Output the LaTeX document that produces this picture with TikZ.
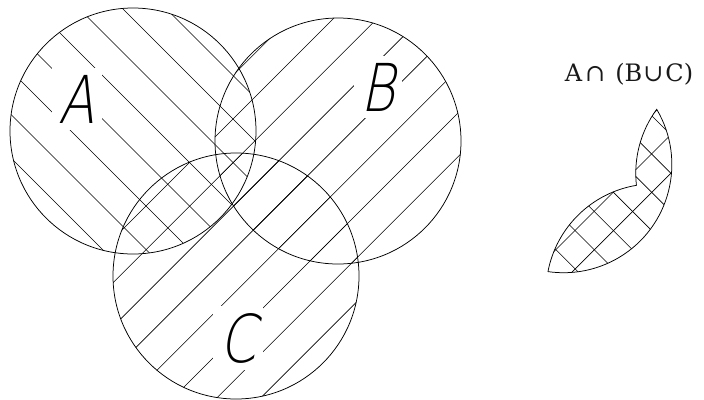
\documentclass[tikz,border=0pt]{standalone}
\usepackage{fontspec}
\IfFontExistsTF{DejaVu Sans ExtraLight}{%
  \newfontfamily\labfont[FakeStretch=0.8,FakeSlant=0.2]{DejaVu Sans ExtraLight}}{%
  \newfontfamily\labfont[FakeStretch=0.78,FakeSlant=0.2]{Liberation Sans}}
\newfontfamily\capfont{DejaVu Serif}
\tikzset{
  outline/.style={draw=black, line width=0.75pt},
  hatchline/.style={draw=black, line width=0.6pt},
  lab/.style={font=\labfont\fontsize{66}{66}\selectfont, fill=white, inner xsep=7pt, inner ysep=7pt},
  capstyle/.style={font=\capfont\fontsize{24}{24}\selectfont, text=black!90}
}
\newcommand\hatchA{\foreach \k in {-5,...,4}{\draw[hatchline] ({27+43.5*\k-20},-20) -- ({27+43.5*\k+420},420);}}
\newcommand\hatchBC{\foreach \k in {-2,...,8}{\draw[hatchline] ({352+43.8*\k+20},-20) -- ({352+43.8*\k-420},420);}}
\newcommand\regionpath{(238.804,68.275) arc[start angle=-30.66, end angle=98.31, radius=123] arc[start angle=190.915, end angle=260.53, radius=123] arc[start angle=173.616, end angle=216.245, radius=123] -- cycle}
\begin{document}
\begin{tikzpicture}[x=1pt, y=-1pt]
\useasboundingbox (0,0) rectangle (704,399);
\coordinate (A) at (133,131);
\coordinate (B) at (338,141);
\coordinate (C) at (236,276);
% hatching of the three sets
\begin{scope}
  \clip (A) circle (123);
  \hatchA
\end{scope}
\begin{scope}
  \clip (B) circle (123);
  \hatchBC
\end{scope}
\begin{scope}
  \clip (C) circle (123);
  \hatchBC
\end{scope}
% labels with gaps in hatching
\node[lab] (la) at (77,99) {A};
\node[lab] (lb) at (378,87) {B};
\node[lab] (lc) at (238,338) {C};
% circles
\draw[outline] (A) circle (123);
\draw[outline] (B) circle (123);
\draw[outline] (C) circle (123);
% result region
\begin{scope}[shift={(446.55,49.22)}, scale=0.88]
  \begin{scope}
    \clip \regionpath;
    \hatchA
    \hatchBC
  \end{scope}
  \draw[outline] \regionpath;
\end{scope}
\node[capstyle] (cap) at (629,74) {A\hspace{3pt}∩\hspace{10pt}(B\hspace{1pt}∪\hspace{2pt}C)};
\end{tikzpicture}
\end{document}
